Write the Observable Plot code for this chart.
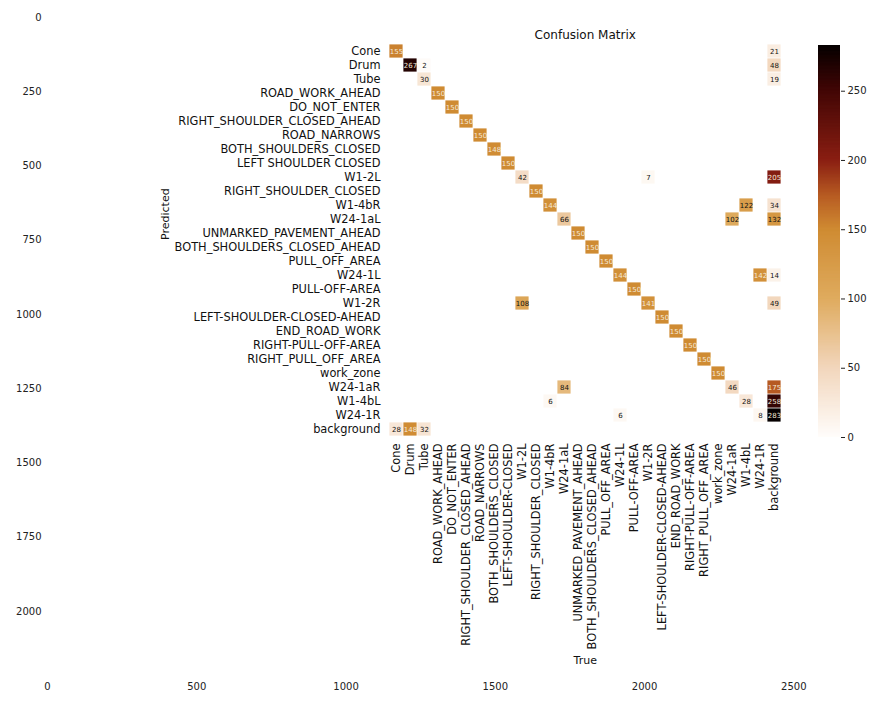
<!DOCTYPE html>
<html><head><meta charset="utf-8">
<script src="https://cdn.jsdelivr.net/npm/d3@7"></script>
<script src="https://cdn.jsdelivr.net/npm/@observablehq/plot@0.6"></script>
<style>
body{margin:0;background:#fff;}
#wrap{position:relative;width:870px;height:703px;font-family:"DejaVu Sans",sans-serif;}
#wrap svg{position:absolute;left:0;top:0;background:transparent !important;overflow:visible;}
</style></head><body><div id="wrap"></div>
<script>
// Class names on the True (x) axis
const trueLabels = ["Cone","Drum","Tube","ROAD_WORK_AHEAD","DO_NOT_ENTER","RIGHT_SHOULDER_CLOSED_AHEAD","ROAD_NARROWS","BOTH_SHOULDERS_CLOSED","LEFT-SHOULDER-CLOSED","W1-2L","RIGHT_SHOULDER_CLOSED","W1-4bR","W24-1aL","UNMARKED_PAVEMENT_AHEAD","BOTH_SHOULDERS_CLOSED_AHEAD","PULL_OFF_AREA","W24-1L","PULL-OFF-AREA","W1-2R","LEFT-SHOULDER-CLOSED-AHEAD","END_ROAD_WORK","RIGHT-PULL-OFF-AREA","RIGHT_PULL_OFF_AREA","work_zone","W24-1aR","W1-4bL","W24-1R","background"];
// Class names on the Predicted (y) axis
const predLabels = ["Cone","Drum","Tube","ROAD_WORK_AHEAD","DO_NOT_ENTER","RIGHT_SHOULDER_CLOSED_AHEAD","ROAD_NARROWS","BOTH_SHOULDERS_CLOSED","LEFT SHOULDER CLOSED","W1-2L","RIGHT_SHOULDER_CLOSED","W1-4bR","W24-1aL","UNMARKED_PAVEMENT_AHEAD","BOTH_SHOULDERS_CLOSED_AHEAD","PULL_OFF_AREA","W24-1L","PULL-OFF-AREA","W1-2R","LEFT-SHOULDER-CLOSED-AHEAD","END_ROAD_WORK","RIGHT-PULL-OFF-AREA","RIGHT_PULL_OFF_AREA","work_zone","W24-1aR","W1-4bL","W24-1R","background"];

// Non-zero cells: predicted index, true index, count
const cellPred  = [0,0, 1,1,1, 2,2, 3,4,5,6,7,8, 9,9,9, 10, 11,11,11, 12,12,12, 13,14,15, 16,16,16, 17, 18,18,18, 19,20,21,22,23, 24,24,24, 25,25,25, 26,26,26, 27,27,27];
const cellTrue  = [0,27, 1,2,27, 2,27, 3,4,5,6,7,8, 9,18,27, 10, 11,25,27, 12,24,27, 13,14,15, 16,26,27, 17, 18,9,27, 19,20,21,22,23, 24,12,27, 25,11,27, 26,16,27, 0,1,2];
const cellCount = [155,21, 267,2,48, 30,19, 150,150,150,150,148,150, 42,7,205, 150, 144,122,34, 66,102,132, 150,150,150, 144,142,14, 150, 141,108,49, 150,150,150,150,150, 46,84,175, 28,6,258, 8,6,283, 28,148,32];

// Outer image axes tick values
const outerXTicks = [0,500,1000,1500,2000,2500];
const outerYTicks = [0,250,500,750,1000,1250,1500,1750,2000];

// Colour bar
const colorTicks = [0,50,100,150,200,250];
const colorStops = [0,50,100,150,175,200,250,283];
const colorRange = ["#fffdfb","#f2d6bc","#dfab5e","#cf8b32","#b65a22","#8a1e12","#420605","#050000"];

const wrap = document.getElementById("wrap");
const transparent = {background:"transparent", overflow:"visible", fontFamily:"DejaVu Sans, sans-serif"};

// Outer axes (the picture's own frame)
const outer = Plot.plot({
  width:870, height:703,
  marginLeft:47, marginRight:0, marginTop:17, marginBottom:27,
  style:{...transparent, fontSize:"10px", color:"#222"},
  x:{domain:[0,2757], ticks:outerXTicks, tickSize:0, tickPadding:6, label:null, tickFormat:d=>String(d)},
  y:{domain:[0,2219], reverse:true, ticks:outerYTicks, tickSize:0, tickPadding:6, label:null, tickFormat:d=>String(d)},
  marks:[]
});
wrap.appendChild(outer);

// Confusion matrix
const cells = cellCount.map((v,i)=>({p:cellPred[i], t:cellTrue[i], v}));
const idx = d3.range(trueLabels.length);
const heat = Plot.plot({
  width:870, height:703,
  marginLeft:388, marginRight:88.5, marginTop:42, marginBottom:266,
  style:{...transparent, fontSize:"11.4px", color:"#111"},
  x:{type:"band", domain:idx, padding:0, tickFormat:i=>trueLabels[i], tickRotate:-90, tickSize:0, tickPadding:6, label:null},
  y:{type:"band", domain:idx, padding:0, tickFormat:i=>predLabels[i], tickSize:0, tickPadding:8, label:null},
  color:{type:"linear", domain:colorStops, range:colorRange},
  marks:[
    Plot.cell(cells, {x:"t", y:"p", fill:"v", inset:0.4}),
    Plot.text(cells.filter(d=>d.v>138), {x:"t", y:"p", text:"v", fill:"#f4ead8", fontSize:7}),
    Plot.text(cells.filter(d=>d.v<=138), {x:"t", y:"p", text:"v", fill:"#111", fontSize:7}),
    Plot.text(["Confusion Matrix"], {text:d=>d, frameAnchor:"top", lineAnchor:"middle", dy:-7, fontSize:12}),
    Plot.text(["Predicted"], {text:d=>d, frameAnchor:"left", lineAnchor:"middle", dx:-223, rotate:-90, fontSize:11}),
    Plot.text(["True"], {text:d=>d, frameAnchor:"bottom", lineAnchor:"middle", dy:223, fontSize:11})
  ]
});
wrap.appendChild(heat);

// Colour bar
const ramp = d3.range(0, 283, 1);
const cbar = Plot.plot({
  width:870, height:703,
  marginLeft:818, marginRight:30, marginTop:45, marginBottom:266,
  style:{...transparent, fontSize:"10px", color:"#222"},
  x:{domain:[0,1], axis:null},
  y:{domain:[0,283], axis:"right", ticks:colorTicks, tickSize:4, tickPadding:3, label:null},
  color:{type:"linear", domain:colorStops, range:colorRange},
  marks:[
    Plot.rect(ramp, {x1:0, x2:1, y1:d=>d, y2:d=>Math.min(d+1.6,283), fill:d=>d+0.5})
  ]
});
wrap.appendChild(cbar);
</script></body></html>
